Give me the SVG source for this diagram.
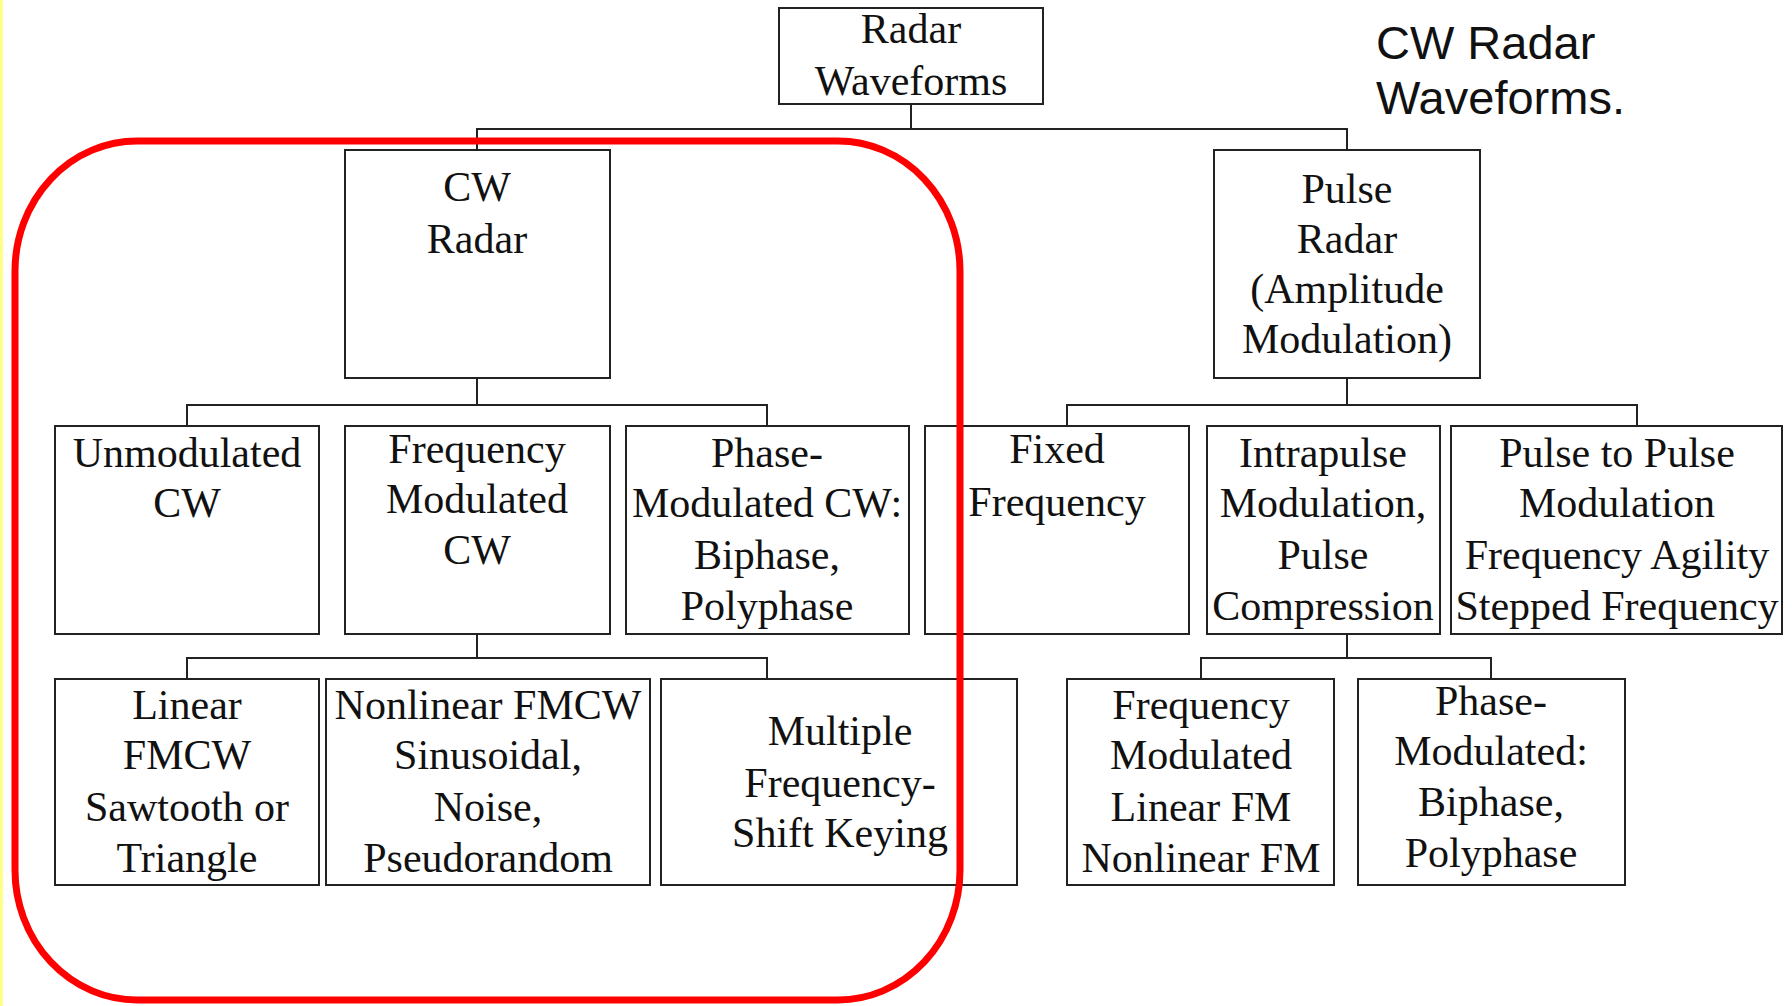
<svg xmlns="http://www.w3.org/2000/svg" width="1792" height="1006" viewBox="0 0 1792 1006">
<style>
.box{fill:#fff;stroke:#222;stroke-width:2}
.t{font-family:"Liberation Serif","Times New Roman",serif;font-size:42px;fill:#111;text-anchor:middle}
.c{fill:none;stroke:#222;stroke-width:2}
.note{font-family:"Liberation Sans",Arial,sans-serif;font-size:47px;fill:#111}
</style>
<rect x="0" y="0" width="1792" height="1006" fill="#fff"/>
<rect x="0" y="0" width="3" height="1006" fill="#ffff88"/>
<g id="connectors">
<path class="c" d="M911 104V129M477 150V129H1347V150"/>
<path class="c" d="M477 378V405M187 426V405H767V426"/>
<path class="c" d="M1347 378V405M1067 426V405H1637V426"/>
<path class="c" d="M477 634V658M187 679V658H767V679"/>
<path class="c" d="M1347 634V658M1201 679V658H1491V679"/>
</g>
<g id="root"><rect class="box" x="779" y="8" width="264" height="96"/>
<text class="t" x="911" y="43">Radar</text><text class="t" x="911" y="95">Waveforms</text></g>
<g id="cw"><rect class="box" x="345" y="150" width="265" height="228"/>
<text class="t" x="477" y="201">CW</text><text class="t" x="477" y="253">Radar</text></g>
<g id="pulse"><rect class="box" x="1214" y="150" width="266" height="228"/>
<text class="t" x="1347" y="203">Pulse</text><text class="t" x="1347" y="253">Radar</text><text class="t" x="1347" y="303">(Amplitude</text><text class="t" x="1347" y="353">Modulation)</text></g>
<g id="unmod"><rect class="box" x="55" y="426" width="264" height="208"/>
<text class="t" x="187" y="467">Unmodulated</text><text class="t" x="187" y="517">CW</text></g>
<g id="fmcw"><rect class="box" x="345" y="426" width="265" height="208"/>
<text class="t" x="477" y="463">Frequency</text><text class="t" x="477" y="513">Modulated</text><text class="t" x="477" y="564">CW</text></g>
<g id="pmcw"><rect class="box" x="626" y="426" width="283" height="208"/>
<text class="t" x="767" y="467">Phase-</text><text class="t" x="767" y="517">Modulated CW:</text><text class="t" x="767" y="569">Biphase,</text><text class="t" x="767" y="620">Polyphase</text></g>
<g id="fixed"><rect class="box" x="925" y="426" width="264" height="208"/>
<text class="t" x="1057" y="463">Fixed</text><text class="t" x="1057" y="516">Frequency</text></g>
<g id="intra"><rect class="box" x="1207" y="426" width="233" height="208"/>
<text class="t" x="1323" y="467">Intrapulse</text><text class="t" x="1323" y="517">Modulation,</text><text class="t" x="1323" y="569">Pulse</text><text class="t" x="1323" y="620">Compression</text></g>
<g id="p2p"><rect class="box" x="1451" y="426" width="331" height="208"/>
<text class="t" x="1617" y="467">Pulse to Pulse</text><text class="t" x="1617" y="517">Modulation</text><text class="t" x="1617" y="569">Frequency Agility</text><text class="t" x="1617" y="620">Stepped Frequency</text></g>
<g id="linear"><rect class="box" x="55" y="679" width="264" height="206"/>
<text class="t" x="187" y="719">Linear</text><text class="t" x="187" y="769">FMCW</text><text class="t" x="187" y="821">Sawtooth or</text><text class="t" x="187" y="872">Triangle</text></g>
<g id="nonlinear"><rect class="box" x="326" y="679" width="324" height="206"/>
<text class="t" x="488" y="719">Nonlinear FMCW</text><text class="t" x="488" y="769">Sinusoidal,</text><text class="t" x="488" y="821">Noise,</text><text class="t" x="488" y="872">Pseudorandom</text></g>
<g id="mfsk"><rect class="box" x="661" y="679" width="356" height="206"/>
<text class="t" x="840" y="745">Multiple</text><text class="t" x="840" y="797">Frequency-</text><text class="t" x="840" y="847">Shift Keying</text></g>
<g id="fm"><rect class="box" x="1067" y="679" width="267" height="206"/>
<text class="t" x="1201" y="719">Frequency</text><text class="t" x="1201" y="769">Modulated</text><text class="t" x="1201" y="821">Linear FM</text><text class="t" x="1201" y="872">Nonlinear FM</text></g>
<g id="pm"><rect class="box" x="1358" y="679" width="267" height="206"/>
<text class="t" x="1491" y="715">Phase-</text><text class="t" x="1491" y="765">Modulated:</text><text class="t" x="1491" y="816">Biphase,</text><text class="t" x="1491" y="867">Polyphase</text></g>
<g id="note"><text class="note" x="1376" y="59">CW Radar</text><text class="note" x="1376" y="114">Waveforms.</text></g>
<rect x="15" y="141" width="945" height="859" rx="122" ry="130" fill="none" stroke="#ff0000" stroke-width="7"/>
</svg>
